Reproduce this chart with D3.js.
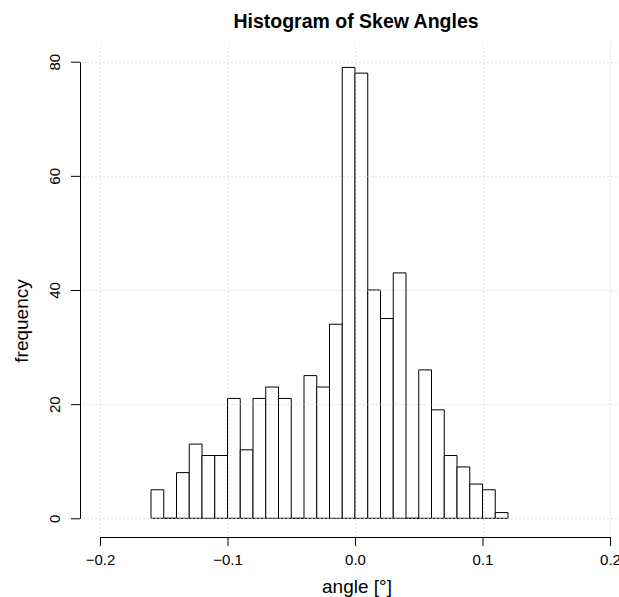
<!DOCTYPE html>
<html>
<head>
<meta charset="utf-8">
<script src="https://cdn.jsdelivr.net/npm/d3@7"></script>
<style>
  html, body { margin: 0; padding: 0; background: #fff; }
  svg { display: block; }
  text { font-family: "Liberation Sans", Arial, Helvetica, sans-serif; }
</style>
</head>
<body>
<svg id="chart" width="619" height="597"></svg>
<script>
// ---- data ----
const binLower = [-0.16, -0.15, -0.14, -0.13, -0.12, -0.11, -0.10, -0.09, -0.08, -0.07,
                  -0.06, -0.05, -0.04, -0.03, -0.02, -0.01, 0.00, 0.01, 0.02, 0.03,
                  0.04, 0.05, 0.06, 0.07, 0.08, 0.09, 0.10, 0.11];
const binUpper = [-0.15, -0.14, -0.13, -0.12, -0.11, -0.10, -0.09, -0.08, -0.07, -0.06,
                  -0.05, -0.04, -0.03, -0.02, -0.01, 0.00, 0.01, 0.02, 0.03, 0.04,
                  0.05, 0.06, 0.07, 0.08, 0.09, 0.10, 0.11, 0.12];
const counts = [5, 0, 8, 13, 11, 11, 21, 12, 21, 23,
                21, 0, 25, 23, 34, 79, 78, 40, 35, 43,
                0, 26, 19, 11, 9, 6, 5, 1];
const xTicks = [-0.2, -0.1, 0.0, 0.1, 0.2];
const yTicks = [0, 20, 40, 60, 80];
const titleText = "Histogram of Skew Angles";
const xLabel = "angle [°]";
const yLabel = "frequency";

// ---- layout ----
const svg = d3.select("#chart");
const x = d3.scaleLinear().domain([-0.2, 0.2]).range([100, 610]);
const y = d3.scaleLinear().domain([0, 80]).range([518.3, 61.7]);
// plot region (R usr with 4% extension)
const xPad = (0.4 * 0.04);
const yPad = (80 * 0.04);
const plotL = x(-0.2 - xPad), plotR = x(0.2 + xPad);
const plotT = y(80 + yPad), plotB = y(0 - yPad);

const bars = binLower.map((lo, i) => ({lo, hi: binUpper[i], n: counts[i]}));

// bars (as closed paths so empty bins still show their baseline)
svg.append("g").selectAll("path").data(bars).join("path")
  .attr("d", d => {
    const x0 = x(d.lo), x1 = x(d.hi), y0 = y(0), y1 = y(d.n);
    return `M${x0},${y0}V${y1}H${x1}V${y0}Z`;
  })
  .attr("fill", "#fff")
  .attr("stroke", "#000")
  .attr("stroke-width", 1);

// grid (drawn on top, like R's grid())
const grid = svg.append("g").attr("stroke", "#c8c8c8").attr("stroke-dasharray", "1,3").attr("stroke-width", 1);
grid.selectAll("line.v").data(xTicks).join("line").attr("class", "v")
  .attr("x1", d => Math.round(x(d)) + 0.5).attr("x2", d => Math.round(x(d)) + 0.5)
  .attr("y1", plotT).attr("y2", plotB);
grid.selectAll("line.h").data(yTicks).join("line").attr("class", "h")
  .attr("y1", d => Math.round(y(d)) + 0.5).attr("y2", d => Math.round(y(d)) + 0.5)
  .attr("x1", plotL).attr("x2", plotR);

// x axis
const fmtX = d3.format(".1f");
const gx = svg.append("g").attr("transform", `translate(0,${Math.round(plotB)})`)
  .call(d3.axisBottom(x).tickValues(xTicks).tickFormat(fmtX).tickSize(9).tickSizeOuter(0).tickPadding(8));
gx.selectAll("text").attr("font-size", 15).attr("fill", "#000").style("font-family", "'Liberation Sans', Arial, sans-serif");
gx.selectAll("line, path").attr("stroke", "#000");

// y axis
const gy = svg.append("g").attr("transform", `translate(${Math.round(plotL)},0)`)
  .call(d3.axisLeft(y).tickValues(yTicks).tickFormat(d3.format("d")).tickSize(9).tickSizeOuter(0));
gy.selectAll("text")
  .attr("x", null).attr("dy", "0.35em")
  .attr("text-anchor", "middle")
  .attr("transform", "translate(-25,0) rotate(-90)")
  .attr("font-size", 15).attr("fill", "#000").style("font-family", "'Liberation Sans', Arial, sans-serif");
gy.selectAll("line, path").attr("stroke", "#000");

// titles
svg.append("text").attr("x", 356).attr("y", 27.5)
  .attr("text-anchor", "middle").attr("font-size", 19.5).attr("font-weight", "bold")
  .text(titleText);
svg.append("text").attr("x", 357).attr("y", 593)
  .attr("text-anchor", "middle").attr("font-size", 19)
  .text(xLabel);
svg.append("text").attr("transform", "translate(28,321) rotate(-90)")
  .attr("text-anchor", "middle").attr("font-size", 19)
  .text(yLabel);
</script>
</body>
</html>
